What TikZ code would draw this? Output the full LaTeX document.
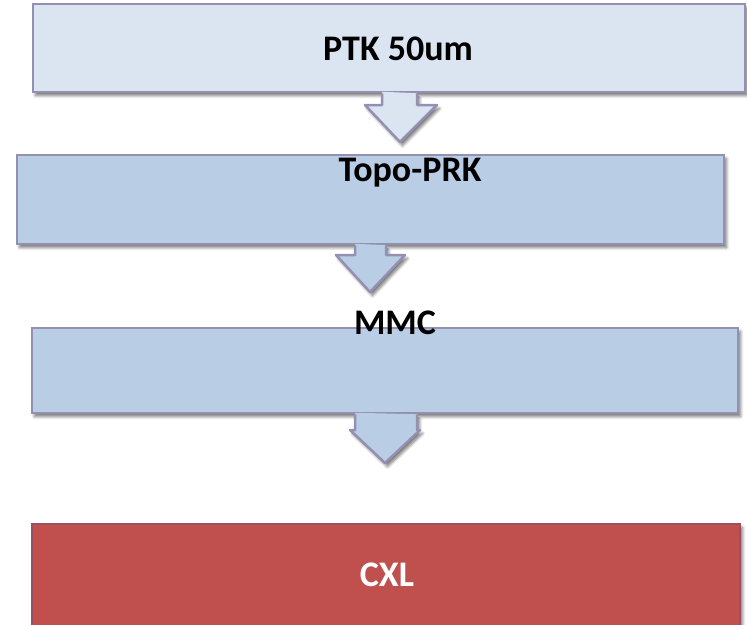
\documentclass[tikz,border=0pt]{standalone}
\usepackage{fontspec}
\setmainfont{Carlito}
\usetikzlibrary{shadows.blur}
\definecolor{palefill}{HTML}{DBE5F1}
\definecolor{bluefill}{HTML}{B9CDE5}
\definecolor{redfill}{HTML}{C0504D}
\definecolor{edgeline}{HTML}{9490B2}
\definecolor{rededge}{HTML}{9A5060}
\tikzset{
  x=1pt, y=-1pt,
  softshadow/.style={blur shadow={shadow xshift=2.5pt, shadow yshift=-3.5pt,
      shadow blur steps=6, shadow blur radius=3pt, shadow opacity=55}},
  stage/.style={draw=edgeline, line width=2.5pt, inner sep=0pt, softshadow},
  caption/.style={font=\fontsize{36}{42}\selectfont\bfseries, inner sep=0pt},
  arrowfill/.style={line width=0pt, softshadow},
  arrowedge/.style={draw=edgeline, line width=2.5pt, line join=round},
}
\begin{document}
\begin{tikzpicture}
\useasboundingbox (0,0) rectangle (747,624);
\begin{scope}
\clip (0,0) rectangle (747,624);

% process stages
\node[stage, fill=palefill, minimum width=712pt, minimum height=88pt] (b1) at (389,48) {};
\node[stage, fill=bluefill, minimum width=707pt, minimum height=89pt] (b2) at (370.5,199.5) {};
\node[stage, fill=bluefill, minimum width=706pt, minimum height=85pt] (b3) at (385,370.5) {};
\node[stage, fill=redfill, draw=rededge, minimum width=708pt, minimum height=116pt] (b4) at (386,582) {};

% block arrows joining the stages
\fill[palefill, arrowfill] (382,0 |- b1.south) ++(0,-1.5) -- (382,105) -- (365,105) -- (400,142)
  -- (437,105) -- (417,105) -- (417,0 |- b1.south) ++(0,-1.5) -- cycle;
\draw[arrowedge] (382,0 |- b1.south) -- (382,105) -- (365,105) -- (400,142)
  -- (437,105) -- (417,105) -- (417,0 |- b1.south);

\fill[bluefill, arrowfill] (355,0 |- b2.south) ++(0,-1.5) -- (355,255) -- (336,255) -- (370,292)
  -- (405,255) -- (386,255) -- (386,0 |- b2.south) ++(0,-1.5) -- cycle;
\draw[arrowedge] (355,0 |- b2.south) -- (355,255) -- (336,255) -- (370,292)
  -- (405,255) -- (386,255) -- (386,0 |- b2.south);

\fill[bluefill, arrowfill] (355,0 |- b3.south) ++(0,-1.5) -- (355,430) -- (350,430) -- (385,463)
  -- (420,430) -- (417,430) -- (417,0 |- b3.south) ++(0,-1.5) -- cycle;
\draw[arrowedge] (355,0 |- b3.south) -- (355,430) -- (350,430) -- (385,463)
  -- (420,430) -- (417,430) -- (417,0 |- b3.south);

% stage captions
\node[caption] (t1) at (398,49) {PTK 50um};
\node[caption] (t2) at (410,173) {Topo-PRK};
\node[caption] (t3) at (395,323) {MMC};
\node[caption, text=white] (t4) at (387,575) {CXL};
\end{scope}
\end{tikzpicture}
\end{document}
